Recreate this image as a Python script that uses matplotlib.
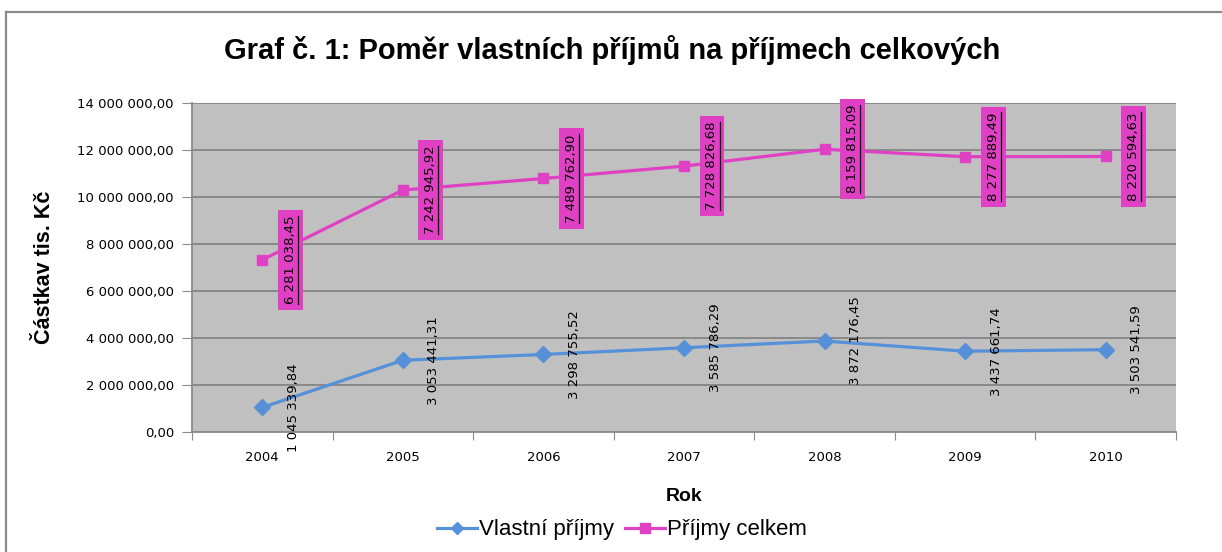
import numpy as np
import matplotlib
matplotlib.use("Agg")
import matplotlib.pyplot as plt
from matplotlib.lines import Line2D

years = ["2004", "2005", "2006", "2007", "2008", "2009", "2010"]
vlastni = [1045339.84, 3053441.31, 3298755.52, 3585786.29, 3872176.45, 3437661.74, 3503541.59]
celkem = [6281038.45, 7242945.92, 7489762.90, 7728826.68, 8159815.09, 8277889.49, 8220594.63]
y_ticks = [0, 2e6, 4e6, 6e6, 8e6, 10e6, 12e6, 14e6]

blue = "#5590D8"
pink = "#E040C4"

def cz(v):
    s = f"{v:,.2f}"
    return s.replace(",", " ").replace(".", ",")

fig = plt.figure(figsize=(12.22, 5.52), dpi=100)
W, H = 1222, 552

# chart frame
fig.add_artist(Line2D([6 / W, 1], [1 - 12 / H, 1 - 12 / H], color="#8a8a8a", lw=1.6))
fig.add_artist(Line2D([6 / W, 6 / W], [0, 1 - 12 / H], color="#8a8a8a", lw=1.6))

ax = fig.add_axes([192 / W, 1 - 432 / H, (1176 - 192) / W, (432 - 103) / H])
ax.set_facecolor("#C0C0C0")

x = np.arange(len(years))
stacked = np.array(vlastni) + np.array(celkem)

ax.plot(x, vlastni, color=blue, lw=2.3, marker="D", ms=8, zorder=3)
ax.plot(x, stacked, color=pink, lw=2.3, marker="s", ms=7.5, zorder=3)

ax.set_xlim(-0.5, 6.5)
ax.set_ylim(0, 14e6)
ax.set_yticks(y_ticks)
ax.set_yticklabels([cz(v) for v in y_ticks], fontsize=9.5, family="DejaVu Sans")
ax.yaxis.grid(True, color="#7a7a7a", lw=1.1)
ax.set_axisbelow(True)
ax.tick_params(axis="y", length=7, color="#8a8a8a", pad=6)

ax.set_xticks(np.arange(-0.5, 7, 1))
ax.set_xticklabels([])
ax.tick_params(axis="x", length=6, color="#8a8a8a")
ax.set_xticks(x, minor=True)
ax.set_xticklabels(years, minor=True, fontsize=9.5, family="DejaVu Sans")
ax.tick_params(axis="x", which="minor", length=0, pad=14)

for s in ["top", "right"]:
    ax.spines[s].set_visible(False)
for s in ["left", "bottom"]:
    ax.spines[s].set_color("#8a8a8a")
    ax.spines[s].set_linewidth(1.3)

# data labels
for xi, v in zip(x, vlastni):
    ax.annotate(cz(v), (xi, v), xytext=(31, 0), textcoords="offset pixels",
                rotation=90, ha="center", va="center", fontsize=9.5,
                family="DejaVu Sans", color="black", zorder=4)

pink_labels = []
for xi, v, s in zip(x, celkem, stacked):
    t = ax.annotate(cz(v), (xi, s), xytext=(28, 0), textcoords="offset pixels",
                    rotation=90, ha="center", va="center", fontsize=9.5,
                    family="DejaVu Sans", color="black", zorder=4,
                    bbox=dict(boxstyle="square,pad=0.45", fc=pink, ec="none"),
                    annotation_clip=False)
    pink_labels.append(t)

ax.set_ylabel("Částkav tis. Kč", fontsize=15.5, fontweight="bold",
              family="Liberation Sans", labelpad=16)
ax.set_xlabel("Rok", fontsize=14, fontweight="bold", family="Liberation Sans",
              labelpad=17)

fig.text(612 / W, 1 - 50 / H, "Graf č. 1: Poměr vlastních příjmů na příjmech celkových",
         ha="center", va="center", fontsize=21, fontweight="bold",
         family="Liberation Sans")

handles = [Line2D([], [], color=blue, lw=2.3, marker="D", ms=6),
           Line2D([], [], color=pink, lw=2.3, marker="s", ms=6.5)]
fig.legend(handles, ["Vlastní příjmy", "Příjmy celkem"], loc="center",
           bbox_to_anchor=(622 / W, 1 - 530 / H), ncol=2, frameon=False,
           prop={"family": "Liberation Sans", "size": 16}, handlelength=1.8,
           handletextpad=0.1, columnspacing=0.5)

# underline the pink labels
fig.canvas.draw()
r = fig.canvas.get_renderer()
for t in pink_labels:
    bb = t.get_window_extent(r)
    xl = bb.x1 + 1.0
    fig.add_artist(Line2D([xl / W, xl / W], [bb.y0 / H, bb.y1 / H],
                          color="black", lw=0.9, zorder=5))

fig.savefig("out.png", dpi=100)
